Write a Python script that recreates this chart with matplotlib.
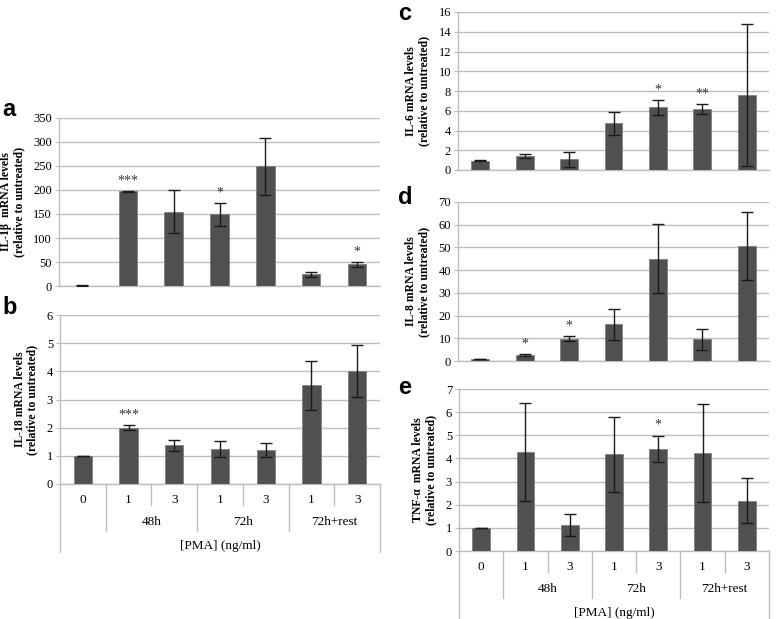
import matplotlib
matplotlib.use('Agg')
import matplotlib.pyplot as plt
from matplotlib.transforms import blended_transform_factory

plt.rcParams['font.family'] = ['Liberation Serif', 'DejaVu Serif']
plt.rcParams['font.size'] = 9

W, H = 778, 619

cats = ['0', '1', '3', '1', '3', '1', '3']
groups = ['48h', '72h', '72h+rest']
xlabel = '[PMA] (ng/ml)'

# panel a - IL-1b
il1b = [1, 197, 155, 149, 249, 24, 45]
il1b_err = [0.5, 1.5, 44, 23, 60, 6, 6]
il1b_sig = ['', '***', '', '*', '', '', '*']

# panel b - IL-18
il18 = [1.0, 2.0, 1.37, 1.25, 1.22, 3.5, 4.02]
il18_err = [0.01, 0.08, 0.2, 0.28, 0.25, 0.86, 0.92]
il18_sig = ['', '***', '', '', '', '', '']

# panel c - IL-6
il6 = [0.95, 1.45, 1.1, 4.72, 6.33, 6.2, 7.6]
il6_err = [0.03, 0.22, 0.75, 1.17, 0.8, 0.5, 7.15]
il6_sig = ['', '', '', '', '*', '**', '']

# panel d - IL-8
il8 = [0.8, 2.7, 9.8, 16.2, 45.1, 9.6, 50.6]
il8_err = [0.1, 0.5, 1.2, 6.8, 15.2, 4.6, 15.1]
il8_sig = ['', '*', '*', '', '', '', '']

# panel e - TNF-a
tnf = [1.0, 4.27, 1.12, 4.17, 4.41, 4.24, 2.18]
tnf_err = [0.01, 2.12, 0.48, 1.63, 0.58, 2.11, 0.96]
tnf_sig = ['', '', '', '', '*', '', '']

bar_c = '#505050'
grid_c = '#bdbdbd'

fig = plt.figure(figsize=(W / 100, H / 100), dpi=100)


def add_ax(left, top, right, bottom):
    return fig.add_axes([left / W, 1 - bottom / H, (right - left) / W, (bottom - top) / H])


def draw_bars(ax, vals, errs, sig, ymax, step, ylab):
    x = list(range(len(vals)))
    ax.bar(x, vals, width=0.4, color=bar_c, edgecolor='#808080', linewidth=0.6, zorder=3)
    ax.errorbar(x, vals, yerr=errs, fmt='none', ecolor='#1a1a1a', elinewidth=1,
                capsize=4.5, capthick=1, zorder=4)
    for i, s in enumerate(sig):
        if s:
            ax.annotate(s, (i, vals[i] + errs[i]), xytext=(0, 2.5), textcoords='offset points',
                        ha='center', va='bottom', fontsize=10, color='#333333')
    ax.set_xlim(-0.5, len(vals) - 0.5)
    ax.set_ylim(0, ymax)
    ax.set_yticks([step * k for k in range(int(round(ymax / step)) + 1)])
    ax.yaxis.grid(True, color=grid_c, linewidth=1)
    ax.set_axisbelow(True)
    ax.set_xticks([])
    for sp in ['top', 'right']:
        ax.spines[sp].set_visible(False)
    for sp in ['left', 'bottom']:
        ax.spines[sp].set_color(grid_c)
        ax.spines[sp].set_linewidth(1)
    ax.tick_params(axis='y', length=3, color=grid_c, pad=2, labelsize=9)
    ax.set_ylabel(ylab, fontweight='bold', fontsize=8.5, labelpad=6, linespacing=1.1)


def draw_table(ax, bot):
    tr = blended_transform_factory(ax.transData, fig.transFigure)

    def fy(off):
        return 1 - (bot + off) / H

    for x, depth in [(-0.5, 68), (0.5, 47), (1.5, 21), (2.5, 47), (3.5, 21),
                     (4.5, 47), (5.5, 21), (6.5, 68)]:
        ax.plot([x, x], [fy(0), fy(depth)], transform=tr, color=grid_c, lw=1, clip_on=False)
    for i, c in enumerate(cats):
        ax.text(i, fy(16), c, transform=tr, ha='center', va='center', fontsize=9.5)
    for j, g in enumerate(groups):
        ax.text(1.5 + 2 * j, fy(38), g, transform=tr, ha='center', va='center', fontsize=9.5)
    ax.text(3, fy(62), xlabel, transform=tr, ha='center', va='center', fontsize=9.5)


ax_a = add_ax(59, 118, 380, 286)
draw_bars(ax_a, il1b, il1b_err, il1b_sig, 350, 50, 'IL-1\u03b2  mRNA levels\n(relative to untreated)')

ax_b = add_ax(60, 315, 380, 484)
draw_bars(ax_b, il18, il18_err, il18_sig, 6, 1, 'IL-18 mRNA levels\n(relative to untreated)')
draw_table(ax_b, 484)

ax_c = add_ax(458, 12, 769, 170)
draw_bars(ax_c, il6, il6_err, il6_sig, 16, 2, 'IL-6 mRNA levels\n(relative to untreated)')

ax_d = add_ax(458, 202, 769, 361)
draw_bars(ax_d, il8, il8_err, il8_sig, 70, 10, 'IL-8 mRNA levels\n(relative to untreated)')

ax_e = add_ax(459, 389, 769, 551)
draw_bars(ax_e, tnf, tnf_err, tnf_sig, 7, 1, 'TNF-\u03b1  mRNA levels\n(relative to untreated)')
draw_table(ax_e, 551)

letter_kw = dict(fontsize=17, fontweight='bold', family=['Liberation Sans', 'DejaVu Sans'],
                 ha='left', va='center')
fig.text(2 / W, 1 - 110 / H, 'a', **letter_kw)
fig.text(2 / W, 1 - 308 / H, 'b', **letter_kw)
fig.text(398 / W, 1 - 13 / H, 'c', **letter_kw)
fig.text(398 / W, 1 - 198 / H, 'd', **letter_kw)
fig.text(398 / W, 1 - 387 / H, 'e', **letter_kw)

fig.savefig('out.png', dpi=100)
